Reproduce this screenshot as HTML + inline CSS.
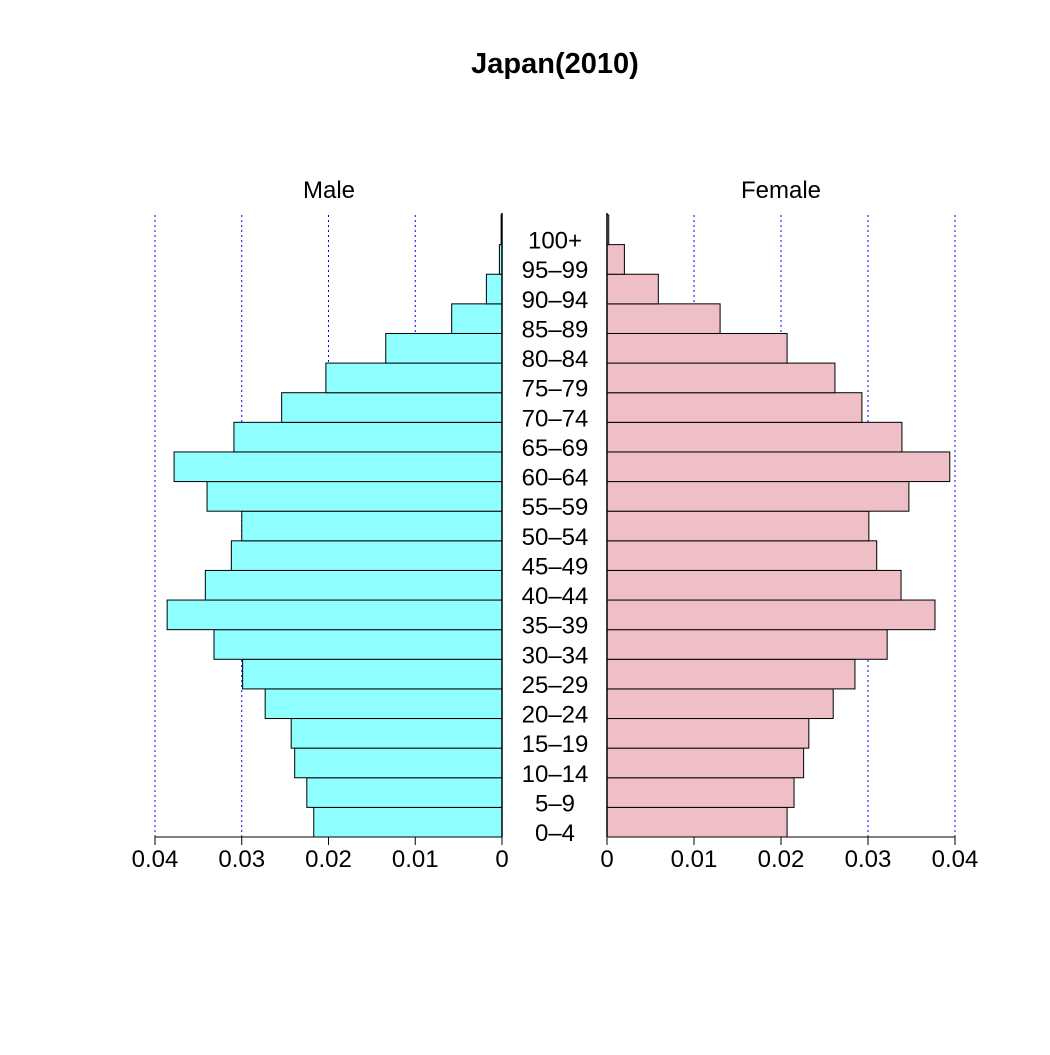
<!DOCTYPE html>
<html><head><meta charset="utf-8"><style>
body{margin:0;background:#fff}
text{font-family:"Liberation Sans",sans-serif}
</style></head><body>
<svg id="chart" width="1050" height="1050" xmlns="http://www.w3.org/2000/svg">
<rect width="1050" height="1050" fill="#fff"/>
<text x="555" y="73" font-size="29" font-weight="bold" text-anchor="middle">Japan(2010)</text>
<text x="329" y="198" font-size="24" text-anchor="middle">Male</text>
<text x="781" y="198" font-size="24" text-anchor="middle">Female</text>
<g id="g"></g>
</svg>
<script>
const categories=["0–4","5–9","10–14","15–19","20–24","25–29","30–34","35–39","40–44","45–49","50–54","55–59","60–64","65–69","70–74","75–79","80–84","85–89","90–94","95–99","100+"];
const maleValues=[0.0217,0.0225,0.0239,0.0243,0.0273,0.0299,0.0332,0.0386,0.0342,0.0312,0.0300,0.0340,0.0378,0.0309,0.0254,0.0203,0.0134,0.0058,0.0018,0.0003,0.0001];
const femaleValues=[0.0207,0.0215,0.0226,0.0232,0.0260,0.0285,0.0322,0.0377,0.0338,0.0310,0.0301,0.0347,0.0394,0.0339,0.0293,0.0262,0.0207,0.0130,0.0059,0.0020,0.0002];
const tickValues=[0,0.01,0.02,0.03,0.04];
const tickLabels=["0","0.01","0.02","0.03","0.04"];
const NS="http://www.w3.org/2000/svg";
const g=document.getElementById('g');
const plotTop=215,plotBottom=837,rowH=(plotBottom-plotTop)/categories.length;
const mx=v=>502-v*8675, fx=v=>607+v*8700;
const yRow=i=>plotBottom-(i+1)*rowH;
function el(t,a){const e=document.createElementNS(NS,t);for(const k in a)e.setAttribute(k,a[k]);g.appendChild(e);return e;}
tickValues.forEach((v,i)=>{
 if(v>0){
  let l=el('line',{x1:mx(v),x2:mx(v),y1:plotTop,y2:plotBottom,stroke:'#00f','stroke-dasharray':'2,3','stroke-width':1});
  
  
  let l2=el('line',{x1:fx(v),x2:fx(v),y1:plotTop,y2:plotBottom,stroke:'#00f','stroke-dasharray':'2,3','stroke-width':1});
  
  
 }
});
categories.forEach((c,i)=>{
 let r=el('rect',{x:mx(maleValues[i]),y:yRow(i),width:maleValues[i]*8675,height:rowH,fill:'#8ffefe',stroke:'#000','stroke-width':1});
 
 
 let f=el('rect',{x:607,y:yRow(i),width:femaleValues[i]*8700,height:rowH,fill:'#eebfc7',stroke:'#000','stroke-width':1});
 
 
 let t=el('text',{x:555,y:yRow(i)+rowH+4,'font-size':24,'text-anchor':'middle'});
 t.textContent=c;
 
 
});
[[502,'male'],[607,'female']].forEach(([x,n])=>{
 let l=el('line',{x1:x,x2:x,y1:plotTop-2,y2:plotBottom,stroke:'#000','stroke-width':1.5});
 
 
});
let ax1=el('line',{x1:mx(0.04),x2:mx(0),y1:plotBottom,y2:plotBottom,stroke:'#000'});


let ax2=el('line',{x1:fx(0),x2:fx(0.04),y1:plotBottom,y2:plotBottom,stroke:'#000'});


tickValues.forEach((v,i)=>{
 [[mx(v),'male'],[fx(v),'female']].forEach(([x,n])=>{
  let tk=el('line',{x1:x,x2:x,y1:plotBottom,y2:plotBottom+8,stroke:'#000'});
  
  
  let tl=el('text',{x:x,y:plotBottom+30,'font-size':24,'text-anchor':'middle'});
  tl.textContent=tickLabels[i];
  
  
 });
});
</script>
</body></html>
